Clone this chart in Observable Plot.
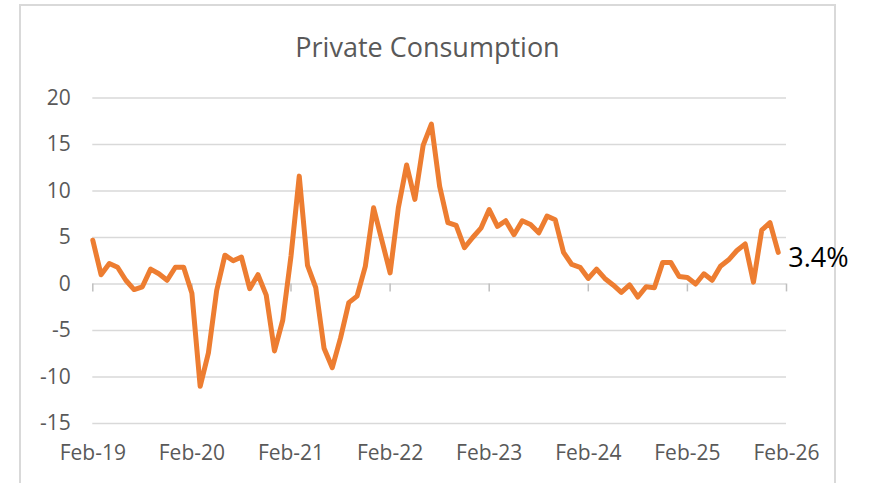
<!DOCTYPE html>
<html><head><meta charset="utf-8">
<script src="https://cdn.jsdelivr.net/npm/d3@7"></script>
<script src="https://cdn.jsdelivr.net/npm/@observablehq/plot@0.6"></script>
<style>
html,body{margin:0;padding:0;background:#fff;}
#wrap{position:relative;width:871px;height:483px;overflow:hidden;font-family:"Open Sans",sans-serif;}
#frame{position:absolute;left:19px;top:4px;width:813px;height:520px;border:2px solid #d9d9d9;}
#title{position:absolute;left:19px;width:817px;top:33px;text-align:center;font-size:27px;line-height:1;color:#595959;}
#chart{position:absolute;left:0;top:0;}
</style></head><body>
<div id="wrap"><div id="frame"></div><div id="title"></div><div id="chart"></div></div>
<script>
const title = "Private Consumption";
const firstMonth = "2019-02"; // first observation (Feb-19), monthly
const values = [
  4.7, 1.0, 2.2, 1.8, 0.4, -0.6, -0.3, 1.6, 1.1, 0.4, 1.8, 1.8,
  -1.0, -11.0, -7.4, -0.7, 3.1, 2.5, 2.9, -0.5, 1.0, -1.2, -7.2, -3.9,
  3.0, 11.6, 2.0, -0.4, -6.9, -9.0, -5.8, -2.0, -1.3, 1.9, 8.2, 4.7,
  1.2, 8.2, 12.8, 9.1, 14.9, 17.2, 10.5, 6.6, 6.3, 3.9, 5.0, 6.0,
  8.0, 6.2, 6.8, 5.3, 6.8, 6.4, 5.5, 7.3, 6.9, 3.4, 2.1, 1.8,
  0.6, 1.6, 0.6, -0.1, -0.9, -0.1, -1.4, -0.3, -0.4, 2.3, 2.3, 0.8,
  0.7, 0.0, 1.1, 0.4, 1.9, 2.6, 3.6, 4.3, 0.2, 5.8, 6.6, 3.4
];
const tickMonths = [0, 12, 24, 36, 48, 60, 72, 84];
const tickLabels = ["Feb-19", "Feb-20", "Feb-21", "Feb-22", "Feb-23", "Feb-24", "Feb-25", "Feb-26"];
const yTicks = [-15, -10, -5, 0, 5, 10, 15, 20];
const lastLabel = "3.4%";

document.getElementById("title").textContent = title;

const data = values.map((v, i) => ({i, v}));
const last = data[data.length - 1];

const chart = Plot.plot({
  width: 871,
  height: 483,
  marginLeft: 92.3,
  marginRight: 85,
  marginTop: 97.5,
  marginBottom: 60,
  style: {fontFamily: "Open Sans", color: "#595959", background: "transparent", overflow: "visible"},
  x: {type: "linear", domain: [0, 84], label: null},
  y: {domain: [-15, 20], label: null},
  marks: [
    Plot.ruleY(yTicks, {stroke: "#d9d9d9", strokeWidth: 1.5}),
    Plot.ruleX(tickMonths, {y1: 0, y2: -0.85, stroke: "#bfbfbf", strokeWidth: 1.5}),
    Plot.axisY(yTicks, {tickSize: 0, tickPadding: 22, fontSize: 21, tickFormat: d => d}),
    Plot.axisX(tickMonths, {tickSize: 0, tickPadding: 22, fontSize: 21, tickFormat: d => tickLabels[tickMonths.indexOf(d)]}),
    Plot.line(data, {x: "i", y: "v", stroke: "#ED7D31", strokeWidth: 5, strokeLinejoin: "round", strokeLinecap: "round"}),
    Plot.text([last], {x: "i", y: "v", text: () => lastLabel, dx: 10, dy: 6, textAnchor: "start", fontSize: 27, fill: "#000"})
  ]
});
document.getElementById("chart").appendChild(chart);
</script>
</body></html>
